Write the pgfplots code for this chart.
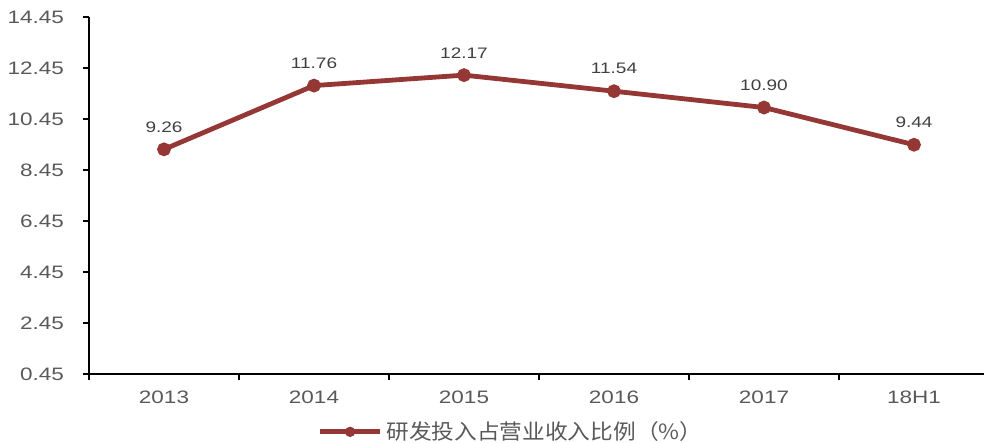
\documentclass[border=0pt]{standalone}
\usepackage{fontspec}
\setmainfont{Liberation Sans}[FakeStretch=1.25]
\newfontfamily\cjk{Noto Sans CJK SC}[FakeStretch=1.08]
\usepackage{pgfplots}
\pgfplotsset{compat=1.18}
\definecolor{lineRed}{HTML}{953735}
\definecolor{tickGrey}{HTML}{595959}
\definecolor{labGrey}{HTML}{404040}
\begin{document}
\begin{tikzpicture}
\begin{axis}[
  at={(0,0)}, anchor=south west,
  scale only axis,
  width=450pt, height=178.5pt,
  xmin=-0.5, xmax=5.5,
  ymin=0.45, ymax=14.45,
  ytick={0.45,2.45,4.45,6.45,8.45,10.45,12.45,14.45},
  yticklabel style={/pgf/number format/fixed,/pgf/number format/fixed zerofill,/pgf/number format/precision=2, xshift=-6pt},
  xtick={-0.5,0.5,1.5,2.5,3.5,4.5,5.5},
  xticklabels={2013,2014,2015,2016,2017,18H1},
  x tick label as interval=true,
  axis lines*=left,
  axis line style={black,line width=0.9pt},
  tick style={black,line width=0.9pt},
  tick align=outside,
  major tick length=3pt,
  /pgf/number format/assume math mode=true,
  tick label style={font=\fontsize{9}{10}\selectfont, text=tickGrey},
  xticklabel style={yshift=-2pt},
  legend style={at={(0.47,-0.162)}, anchor=center, draw=none, fill=none,
    font=\cjk\fontsize{10.5}{12}\selectfont, text=tickGrey, inner sep=0pt},
  legend image code/.code={
    \draw[#1, mark=none] (0pt,0pt) -- (30pt,0pt);
    \draw[#1, only marks, mark size=1.3pt] plot coordinates {(15pt,0pt)};
  },
  clip=false,
]
\addplot[color=lineRed, line width=2.4pt, mark=*, mark size=2.2pt,
  mark options={fill=lineRed, draw=lineRed},
  nodes near coords={\pgfmathprintnumber[fixed,fixed zerofill,precision=2]{\pgfplotspointmeta}},
  every node near coord/.append style={font=\fontsize{7.6}{9}\selectfont, text=labGrey, yshift=4pt},
] coordinates {
  (0,9.26) (1,11.76) (2,12.17) (3,11.54) (4,10.90) (5,9.44)
};
\addlegendentry{研发投入占营业收入比例（\%）}
\end{axis}
\pgfresetboundingbox
\path (-44.5pt,-34.5pt) rectangle (447.5pt,187pt);
\end{tikzpicture}
\end{document}
